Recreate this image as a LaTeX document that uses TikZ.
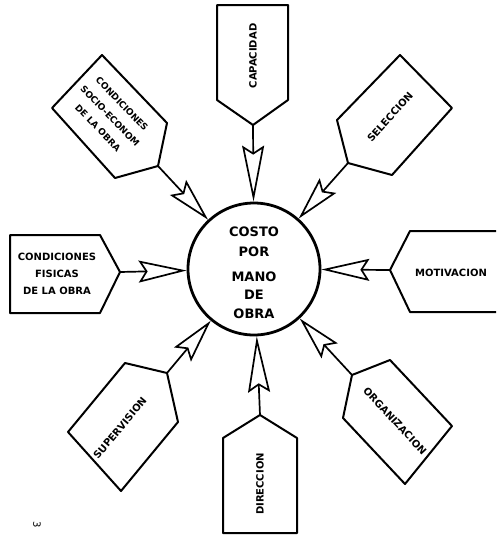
\documentclass[tikz,border=0pt]{standalone}
\usepackage{fontspec}
\setmainfont{DejaVu Sans}
\usetikzlibrary{arrows.meta}
\begin{document}
\begin{tikzpicture}[x=1pt,y=-1pt,
  box/.style={draw,line width=2pt,line join=round},
  lbl/.style={font=\fontsize{10}{17}\selectfont\bfseries,align=center,inner sep=0pt},
  feed/.style={line width=1.7pt,-{Stealth[open,length=#1,width=22pt,inset=7pt]}},
]
\useasboundingbox (0,0) rectangle (496,536);

% central circle
\node[circle,draw,line width=2.8pt,minimum size=132pt,inner sep=0pt] (ctr) at (254,269) {};
\node[font=\fontsize{13}{16}\selectfont\bfseries,align=center,inner sep=0pt] (ctrtext) at (254,273)
  {COSTO\\[4pt]POR\\[9pt]MANO\\[2pt]DE\\[3pt]OBRA};

% top: capacidad
\draw[box] (217,5) -- (288,5) -- (288,100) -- (253,125) -- (217,100) -- cycle;
\coordinate (capP) at (253,125);
\node[lbl,rotate=90] (capT) at (253,56) {CAPACIDAD};
\draw[feed=56pt] (capP) -- (ctr);

% left: condiciones fisicas
\draw[box] (10,235) -- (100,235) -- (120,272) -- (100,313) -- (10,313) -- cycle;
\coordinate (fisP) at (120,272);
\node[lbl] (fisT) at (57,274) {CONDICIONES\\FISICAS\\DE LA OBRA};
\draw[feed=48pt] (fisP) -- (ctr);

% right: motivacion
\draw[box] (496,231) -- (410,231) -- (390,270) -- (410,312) -- (496,312);
\coordinate (motP) at (390,270);
\node[lbl] (motT) at (451,273) {MOTIVACION};
\draw[feed=48pt] (motP) -- (ctr);

% bottom: direccion
\draw[box] (223,533) -- (223,438) -- (260,415) -- (297,438) -- (297,533) -- cycle;
\coordinate (dirP) at (260,415);
\node[lbl,rotate=90] (dirT) at (260,484) {DIRECCION};
\draw[feed=56pt] (dirP) -- (ctr);

% upper left: condiciones socio-economicas, one node per line
\draw[box] (102,55) -- (167,123) -- (158,166) -- (115,178) -- (52,108) -- cycle;
\coordinate (socP) at (158,166);
\node[lbl,font=\fontsize{9}{12}\selectfont\bfseries,rotate=-46] (socT1) at (122,104) {CONDICIONES};
\node[lbl,font=\fontsize{9}{12}\selectfont\bfseries,rotate=-46] (socT2) at (110,116) {SOCIO-ECONOM};
\node[lbl,font=\fontsize{9}{12}\selectfont\bfseries,rotate=-46] (socT3) at (98,128) {DE LA OBRA};
\draw[feed=44pt] (socP) -- (ctr);

% upper right: seleccion
\draw[box] (400,55) -- (452,108) -- (392,175) -- (348,163) -- (337,120) -- cycle;
\coordinate (selP) at (348,163);
\node[lbl,rotate=48] (selT) at (390,117) {SELECCION};
\draw[feed=44pt] (selP) -- (ctr);

% lower left: supervision
\draw[box] (125,363) -- (167,373) -- (178,422) -- (121,491) -- (68,432) -- cycle;
\coordinate (supP) at (167,373);
\node[lbl,rotate=50] (supT) at (120,428) {SUPERVISION};
\draw[feed=44pt] (supP) -- (ctr);

% lower right: organizacion
\draw[box] (390,360) -- (452,426) -- (405,484) -- (343,418) -- (352,375) -- cycle;
\coordinate (orgP) at (352,375);
\node[lbl,rotate=-47] (orgT) at (395,421) {ORGANIZACION};
\draw[feed=44pt] (orgP) -- (ctr);

% page number
\node[font=\fontsize{10}{12}\selectfont,rotate=-90,inner sep=0pt] (pg) at (37,525) {3};
\end{tikzpicture}
\end{document}
